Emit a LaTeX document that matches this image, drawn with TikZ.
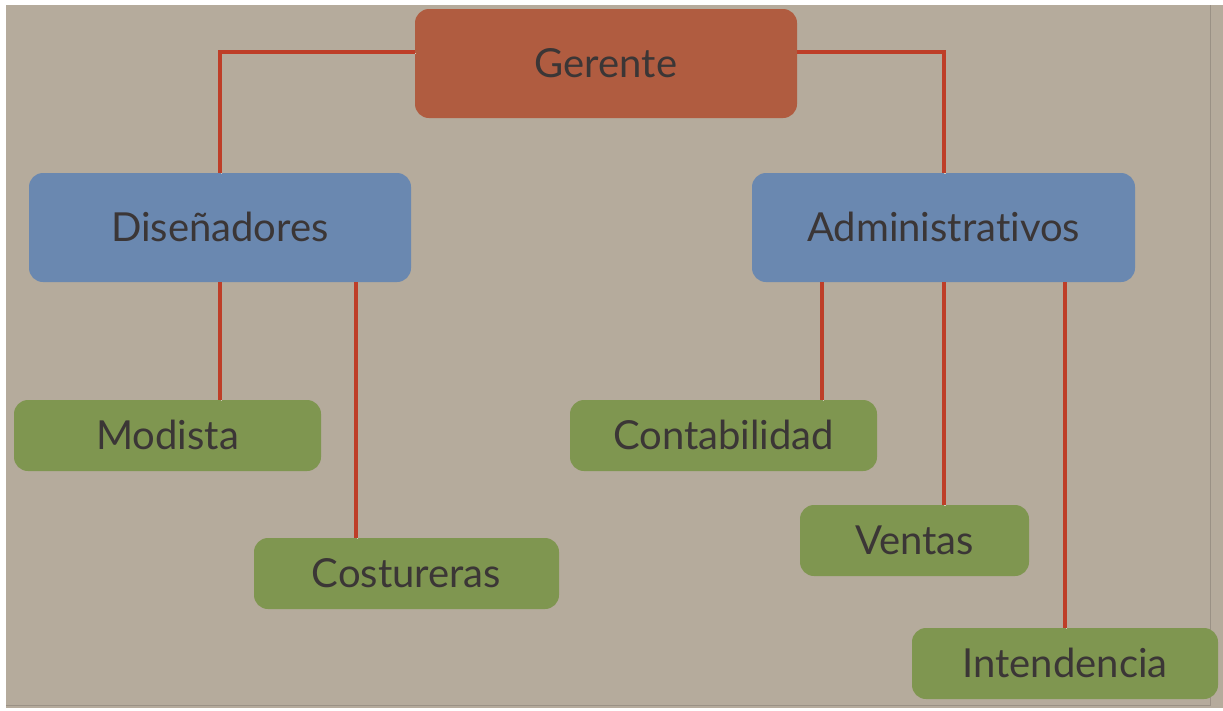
\documentclass[tikz,border=0pt]{standalone}
\usepackage{fontspec}
\setmainfont[Ligatures=CommonOff]{Lato}
\definecolor{paper}{HTML}{B5AB9C}
\definecolor{redbox}{HTML}{B05C40}
\definecolor{bluebox}{HTML}{6A88B0}
\definecolor{greenbox}{HTML}{7F9650}
\definecolor{linkred}{HTML}{BE3E28}
\definecolor{txt}{HTML}{3B3636}
\definecolor{hilite}{HTML}{D2CABD}
\tikzset{
  box/.style={rectangle, rounded corners=14pt, inner sep=0pt, text=txt,
    font=\fontsize{40}{44}\selectfont, text height=28.5pt, text depth=0pt},
  bigbox/.style={box, minimum height=109pt},
  smallbox/.style={box, minimum height=71pt},
  link/.style={draw=linkred, line width=4pt,
    preaction={draw=hilite, line width=1.5pt, transform canvas={shift={(1.6pt,-1.6pt)}}}},
}
\begin{document}
\begin{tikzpicture}[x=1pt,y=-1pt]
\useasboundingbox (0,0) rectangle (1223,710);
\fill[white] (0,0) rectangle (1223,710);
\fill[paper] (6,5) rectangle (1223,708);
\draw[paper!85!black, line width=0.6pt] (1210,5) -- (1210,705) -- (6,705);
% nodes
\node[bigbox, fill=redbox, minimum width=382pt] (ger) at (606,63.5) {Gerente};
\node[bigbox, fill=bluebox, minimum width=382pt] (dis) at (220,227.5) {Diseñadores};
\node[bigbox, fill=bluebox, minimum width=383pt] (adm) at (943.5,227.5) {Administrativos};
\node[smallbox, fill=greenbox, minimum width=307pt] (mod) at (167.5,435.5) {Modista};
\node[smallbox, fill=greenbox, minimum width=305pt] (cos) at (406.5,573.5) {Costureras};
\node[smallbox, fill=greenbox, minimum width=307pt] (con) at (723.5,435.5) {Contabilidad};
\node[smallbox, fill=greenbox, minimum width=229pt] (ven) at (914.5,540.5) {Ventas};
\node[smallbox, fill=greenbox, minimum width=306pt] (int) at (1065,663.5) {Intendencia};
% connectors
\draw[link] ([yshift=11.5pt]ger.west) -| (dis.north);
\draw[link] ([yshift=11.5pt]ger.east) -| (adm.north);
\draw[link] (dis.south) -- (dis.south |- mod.north);
\draw[link] ([xshift=136pt]dis.south) -- ([xshift=136pt]dis.south |- cos.north);
\draw[link] ([xshift=-121.5pt]adm.south) -- ([xshift=-121.5pt]adm.south |- con.north);
\draw[link] (adm.south) -- (adm.south |- ven.north);
\draw[link] ([xshift=121.5pt]adm.south) -- (int.north);
\end{tikzpicture}
\end{document}
